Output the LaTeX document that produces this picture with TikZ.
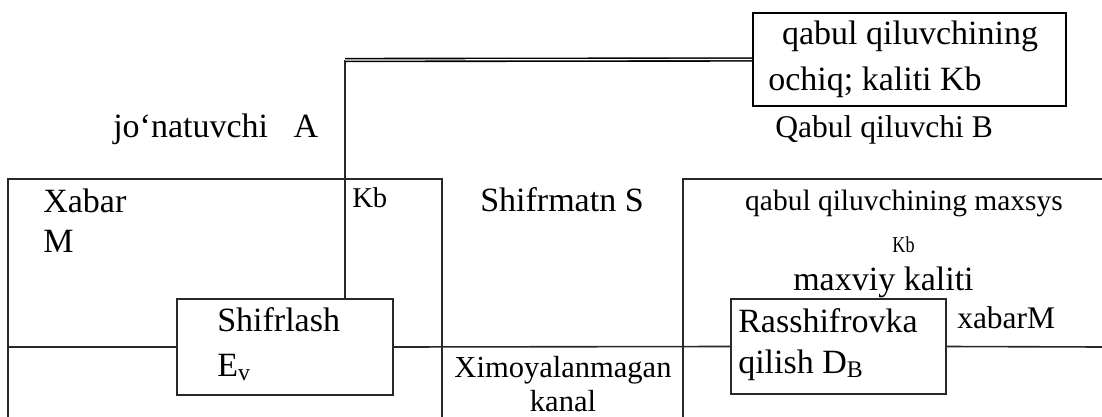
\documentclass[tikz,border=0pt]{standalone}
\usepackage{fontspec}
\setmainfont{Liberation Serif}
\usepackage{graphicx}
\definecolor{lineGray}{RGB}{40, 40, 40}

\begin{document}
\begin{tikzpicture}[x=0.75pt, y=-0.75pt,
    wire/.style={draw=lineGray, line width=1.2pt},
    block/.style={draw=lineGray, line width=1.2pt, inner sep=0pt},
    txt/.style={inner sep=0pt, anchor=base west, font=\fontsize{25.5}{28}\selectfont},
    ctxt/.style={txt, anchor=base}]
  \useasboundingbox (0,0) rectangle (1102,417);

  % sender side and receiver side
  \draw[wire] (8,417) |- (442,179) -- (442,417);
  \draw[wire] (683,417) |- (1102,179);

  % blocks
  \node[block, minimum width=162pt, minimum height=72pt] (enc) at (285,347) {};
  \node[block, minimum width=161.25pt, minimum height=71.25pt] (dec) at (838.5,346.5) {};
  \node[draw=black, line width=1.5pt, inner sep=0pt, minimum width=234.75pt, minimum height=69.75pt] (key) at (909.5,59.5) {};

  % channel
  \coordinate (msgin) at (8,347);
  \coordinate (msgout) at (1102,347);
  \coordinate (kbtop) at (345,60);
  \draw[wire] (msgin) -- (enc.west);
  \draw[wire] (enc.east) -- (dec.west);
  \draw[wire] (dec.east) -- (msgout);
  \draw[wire] (kbtop |- enc.north) -- (kbtop);
  \draw[line width=1.2pt, double distance=0.9pt, double=white, draw=black] (kbtop) -- (key.west);

  % labels
  \node[txt] (sender) at (113,138) {jo‘natuvchi~~~A};
  \node[txt] (msg) at (43,212) {Xabar};
  \node[txt] (msgm) at (43,252) {M};
  \node[txt, font=\fontsize{21.5}{24}\selectfont] (kbenc) at (352,207) {Kb};
  \node[txt] (cipher) at (480,211) {Shifrmatn S};
  \node[txt] (encname) at (217,331) {Shifrlash};
  \node[txt] (encsym) at (217,376) {E\textsubscript{v}};
  \node[ctxt, font=\fontsize{22.9}{25}\selectfont] (chan) at (563,377) {Ximoyalanmagan};
  \node[ctxt, font=\fontsize{22.9}{25}\selectfont] (chan2) at (563,411) {kanal};
  \node[ctxt] (pub) at (910,45) {qabul qiluvchining};
  \node[txt] (pub2) at (768,91) {ochiq; kaliti Kb};
  \node[txt, font=\fontsize{23.7}{26}\selectfont] (receiver) at (775,138) {Qabul qiluvchi B};
  \node[ctxt, font=\fontsize{22.1}{24}\selectfont] (priv) at (904,210) {qabul qiluvchining maxsys};
  \node[ctxt, font=\fontsize{17}{19}\selectfont] (kbdec) at (903.5,252) {\scalebox{0.8}[1]{Kb}};
  \node[txt] (priv2) at (793,290) {maxviy kaliti};
  \node[txt] (decname) at (738,332) {Rasshifrovka};
  \node[txt] (decsym) at (738,373) {qilish D\textsubscript{B}};
  \node[txt, font=\fontsize{23.6}{26}\selectfont] (msgb) at (957,328) {xabarM};
\end{tikzpicture}
\end{document}
